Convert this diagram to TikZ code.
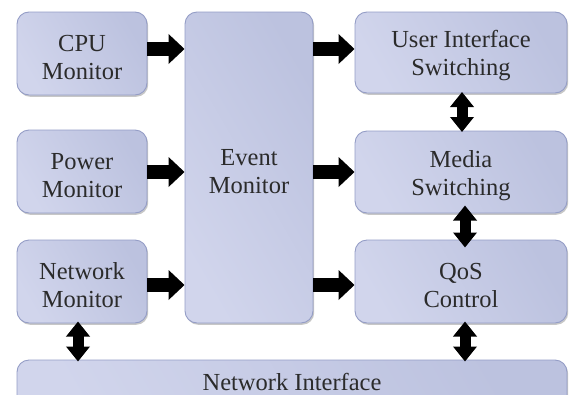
\documentclass[tikz,border=0pt]{standalone}
\usepackage{fontspec}
\setmainfont{Liberation Serif}
\usetikzlibrary{arrows.meta,shadows,calc}
\definecolor{boxA}{HTML}{D1D5EC}
\definecolor{boxB}{HTML}{BCC2DF}
\definecolor{boxline}{HTML}{949DC6}
\definecolor{txt}{HTML}{2B2B2B}
\newcommand{\topgap}{\rule{0pt}{24pt}}
\tikzset{
  box/.style={draw=boxline, line width=0.9pt, rounded corners=12pt,
    left color=boxA, right color=boxB, shading angle=120,
    drop shadow={shadow xshift=1.2pt, shadow yshift=-1.8pt, opacity=0.22, fill=black},
    align=center, text=txt, font=\fontsize{24.5}{28}\selectfont, inner sep=0pt},
  harrow/.style={line width=14pt, -{Triangle[length=16pt,width=29pt]}, black},
  varrow/.style={line width=11pt, {Triangle[length=15pt,width=23pt]}-{Triangle[length=15pt,width=23pt]}, black}
}
\begin{document}
\begin{tikzpicture}[x=1pt,y=-1pt]
\useasboundingbox (0,0) rectangle (569,394);
\begin{scope}
\clip (0,0) rectangle (569,394);
\node[box, minimum width=130pt, minimum height=83pt] (cpu) at (82,53.5) {\topgap CPU\\Monitor};
\node[box, minimum width=130pt, minimum height=83pt] (power) at (82,171.5) {\topgap Power\\Monitor};
\node[box, minimum width=130pt, minimum height=83pt] (netmon) at (82,281.5) {\topgap Network\\Monitor};
\node[box, minimum width=128pt, minimum height=311pt] (event) at (249,167.5) {\topgap Event\\Monitor};
\node[box, minimum width=212pt, minimum height=81pt] (ui) at (461,52.5) {\topgap User Interface\\Switching};
\node[box, minimum width=212pt, minimum height=82pt] (media) at (461,172) {\topgap Media\\Switching};
\node[box, minimum width=212pt, minimum height=83pt] (qos) at (461,281.5) {\topgap QoS\\Control};
\node[box, minimum width=550pt, minimum height=80pt] (ni) at (292,400) {};
\node[anchor=base, text=txt, font=\fontsize{24.5}{28}\selectfont, inner sep=0pt] (nilabel) at (292,390.5) {Network Interface};
\end{scope}
% horizontal arrows
\draw[harrow] ($(cpu.east)+(0,-4.5)$) -- ($(cpu.east -| event.west)+(0,-4.5)$);
\draw[harrow] ($(power.east)+(0,0.5)$) -- ($(power.east -| event.west)+(0,0.5)$);
\draw[harrow] ($(netmon.east)+(0,3.5)$) -- ($(netmon.east -| event.west)+(0,3.5)$);
\draw[harrow] ($(event.east |- ui.west)+(0,-3.5)$) -- ($(ui.west)+(0,-3.5)$);
\draw[harrow] ($(event.east |- media.west)+(0,0)$) -- ($(media.west)+(0,0)$);
\draw[harrow] ($(event.east |- qos.west)+(0,3.5)$) -- ($(qos.west)+(0,3.5)$);
% vertical double arrows (fixed length, centred in the gaps)
\draw[varrow] ($(ui.south)!0.5!(media.north)+(1,-20)$) -- ($(ui.south)!0.5!(media.north)+(1,20)$);
\draw[varrow] ($(media.south)!0.5!(qos.north)+(4,-21)$) -- ($(media.south)!0.5!(qos.north)+(4,21)$);
\draw[varrow] ($(qos.south)!0.5!(qos.south |- ni.north)+(4,-20)$) -- ($(qos.south)!0.5!(qos.south |- ni.north)+(4,20)$);
\draw[varrow] ($(netmon.south)!0.5!(netmon.south |- ni.north)+(-4,-20)$) -- ($(netmon.south)!0.5!(netmon.south |- ni.north)+(-4,20)$);
\end{tikzpicture}
\end{document}
